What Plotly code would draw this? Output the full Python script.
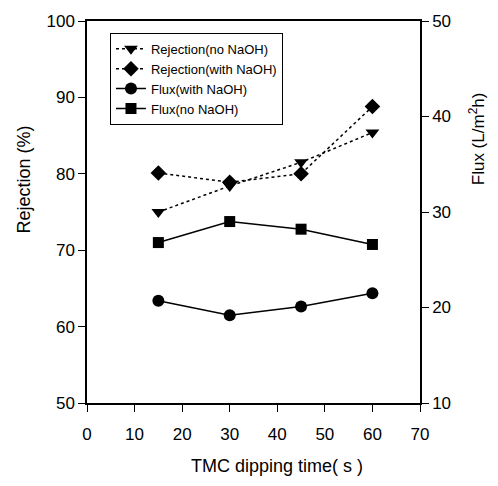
import plotly.graph_objects as go

time_s = [15, 30, 45, 60]
rej_no_naoh = [75.0, 78.4, 81.5, 85.4]
rej_with_naoh = [80.1, 78.9, 80.0, 88.8]
flux_with_naoh = [20.7, 19.2, 20.1, 21.5]
flux_no_naoh = [26.8, 29.0, 28.2, 26.6]

FONT = "Liberation Sans, Arial, sans-serif"

fig = go.Figure()
fig.add_trace(go.Scatter(x=time_s, y=rej_no_naoh, name="Rejection(no NaOH)", mode="lines+markers",
                         line=dict(color="black", width=1.5, dash="dot"),
                         marker=dict(symbol="triangle-down", size=12, color="black")))
fig.add_trace(go.Scatter(x=time_s, y=rej_with_naoh, name="Rejection(with NaOH)", mode="lines+markers",
                         line=dict(color="black", width=1.5, dash="dot"),
                         marker=dict(symbol="diamond", size=12, color="black")))
fig.add_trace(go.Scatter(x=time_s, y=flux_with_naoh, name="Flux(with NaOH)", mode="lines+markers",
                         yaxis="y2", line=dict(color="black", width=1.5),
                         marker=dict(symbol="circle", size=12, color="black")))
fig.add_trace(go.Scatter(x=time_s, y=flux_no_naoh, name="Flux(no NaOH)", mode="lines+markers",
                         yaxis="y2", line=dict(color="black", width=1.5),
                         marker=dict(symbol="square", size=11, color="black")))

axis_common = dict(showline=True, linecolor="black", linewidth=1.5, ticks="outside",
                   ticklen=7, tickwidth=1.2, tickcolor="black", showgrid=False, zeroline=False,
                   tickfont=dict(family=FONT, size=17, color="black"))

fig.update_layout(
    width=498, height=486,
    margin=dict(l=87, r=78, t=15, b=83),
    paper_bgcolor="white", plot_bgcolor="white",
    font=dict(family=FONT, color="black"),
    xaxis=dict(range=[0, 70], tickvals=[0, 10, 20, 30, 40, 50, 60, 70], mirror=True,
               ticklabelstandoff=8, **axis_common),
    yaxis=dict(range=[50, 100], tickvals=[50, 60, 70, 80, 90, 100], **axis_common),
    yaxis2=dict(range=[10, 50], tickvals=[10, 20, 30, 40, 50], overlaying="y", side="right",
                **axis_common),
    showlegend=True,
    legend=dict(x=0.069, y=0.969, xanchor="left", yanchor="top", bgcolor="white",
                bordercolor="black", borderwidth=1, font=dict(family=FONT, size=13, color="black"),
                tracegroupgap=0),
    annotations=[
        dict(text="Rejection (%)", x=-0.192, y=0.585, xref="paper", yref="paper", showarrow=False,
             xanchor="center", yanchor="middle",
             textangle=-90, font=dict(family=FONT, size=18, color="black")),
        dict(text="Flux (L/m<sup>2</sup>h)", x=1.171, y=0.693, xref="paper", yref="paper",
             xanchor="center", yanchor="middle",
             showarrow=False, textangle=-90, font=dict(family=FONT, size=17, color="black")),
        dict(text="TMC dipping time( s )", x=0.571, y=-0.165, xref="paper", yref="paper",
             xanchor="center", yanchor="middle",
             showarrow=False, font=dict(family=FONT, size=18, color="black")),
    ],
)

fig.write_html("out.html")
